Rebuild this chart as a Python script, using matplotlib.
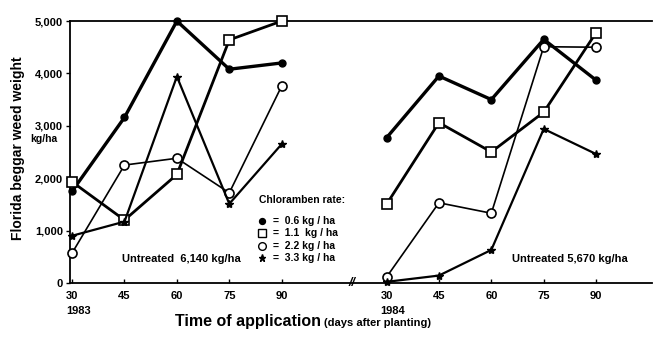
import numpy as np
import matplotlib.pyplot as plt

plt.rcParams['font.family'] = ['Liberation Sans', 'DejaVu Sans']
plt.rcParams['font.weight'] = 'bold'

# days after planting, both years
days = [30, 45, 60, 75, 90]
offset_1984 = 90  # shift of the 1984 block along x

# weed weight, kg/ha, per chloramben rate
w83_06 = [1750, 3160, 5000, 4080, 4200]
w83_11 = [1930, 1200, 2070, 4640, 5000]
w83_22 = [570, 2250, 2380, 1720, 3760]
w83_33 = [900, 1170, 3940, 1510, 2650]

w84_06 = [2770, 3950, 3500, 4650, 3870]
w84_11 = [1500, 3060, 2500, 3260, 4780]
w84_22 = [110, 1530, 1330, 4510, 4500]
w84_33 = [20, 140, 630, 2940, 2460]

rates = ['0.6 kg / ha', '1.1  kg / ha', '2.2 kg / ha', '3.3 kg / ha']
yticks = [0, 1000, 2000, 3000, 4000, 5000]

styles = [
    dict(marker='o', ms=5, mfc='black', mec='black', lw=2.4),
    dict(marker='s', ms=6.5, mfc='white', mec='black', mew=1.2, lw=2.0),
    dict(marker='o', ms=6.5, mfc='white', mec='black', mew=1.2, lw=1.2),
    dict(marker='*', ms=6, mfc='black', mec='black', lw=1.6),
]

fig = plt.figure(figsize=(6.54, 3.45), dpi=100)
ax = fig.add_axes([0.107, 0.18, 0.89, 0.759])

x83 = np.array(days)
x84 = np.array(days) + offset_1984
for s83, s84, st in zip([w83_06, w83_11, w83_22, w83_33],
                        [w84_06, w84_11, w84_22, w84_33], styles):
    ax.plot(x83, s83, color='black', clip_on=False, zorder=3, **st)
    ax.plot(x84, s84, color='black', clip_on=False, zorder=3, **st)

ax.set_xlim(29.4, 196)
ax.set_ylim(0, 5000)

ax.set_yticks(yticks)
ax.set_yticklabels(['{:,}'.format(v) for v in yticks], fontsize=8, fontweight='bold')
ax.tick_params(axis='y', direction='out', length=3, width=1, pad=2)

xt = list(x83) + list(x84)
ax.set_xticks(xt)
ax.set_xticklabels([str(d) for d in days] * 2, fontsize=8, fontweight='bold')
ax.tick_params(axis='x', direction='in', length=3, width=1, pad=6)

for sp in ['left', 'bottom', 'top']:
    ax.spines[sp].set_linewidth(1.3)
ax.spines['right'].set_visible(False)

# year labels under first tick of each block
for x, yr in [(30, '1983'), (30 + offset_1984, '1984')]:
    ax.annotate(yr, xy=(x, 0), xycoords=('data', 'axes fraction'),
                xytext=(-4.5, -20), textcoords='offset points',
                ha='left', va='center', fontsize=8, fontweight='bold')

# axis break mark
ax.text(110.2, 0, '//', ha='center', va='center', fontsize=9,
        fontweight='bold', fontstyle='italic', clip_on=False)

ax.text(44.3, 450, 'Untreated  6,140 kg/ha', fontsize=8, fontweight='bold',
        va='center')
ax.text(155.8, 450, 'Untreated 5,670 kg/ha', fontsize=8, fontweight='bold',
        va='center')

# legend drawn as text block
ax.text(83.5, 1530, 'Chloramben rate:', fontsize=7.5, fontweight='bold')
leg_y = [1180, 950, 710, 470]
for yy, lab, st in zip(leg_y, rates, styles):
    ax.plot([84.5], [yy], color='black', linestyle='none',
            marker=st['marker'], ms=st['ms'] * 0.85, mfc=st['mfc'],
            mec='black', mew=1.0)
    ax.text(87.5, yy, '=  ' + lab, fontsize=7.5, fontweight='bold', va='center')

fig.text(0.027, 0.57, 'Florida beggar weed weight', rotation=90,
         ha='center', va='center', fontsize=10, fontweight='bold')
ax.text(-0.069, 0.55, 'kg/ha', transform=ax.transAxes, fontsize=7.5,
        fontweight='bold', ha='left', va='center')

fig.text(0.268, 0.068, 'Time of application', fontsize=11.5, fontweight='bold',
         ha='left', va='center')
fig.text(0.495, 0.064, '(days after planting)', fontsize=8, fontweight='bold',
         ha='left', va='center')

plt.savefig('out.png', dpi=100)
